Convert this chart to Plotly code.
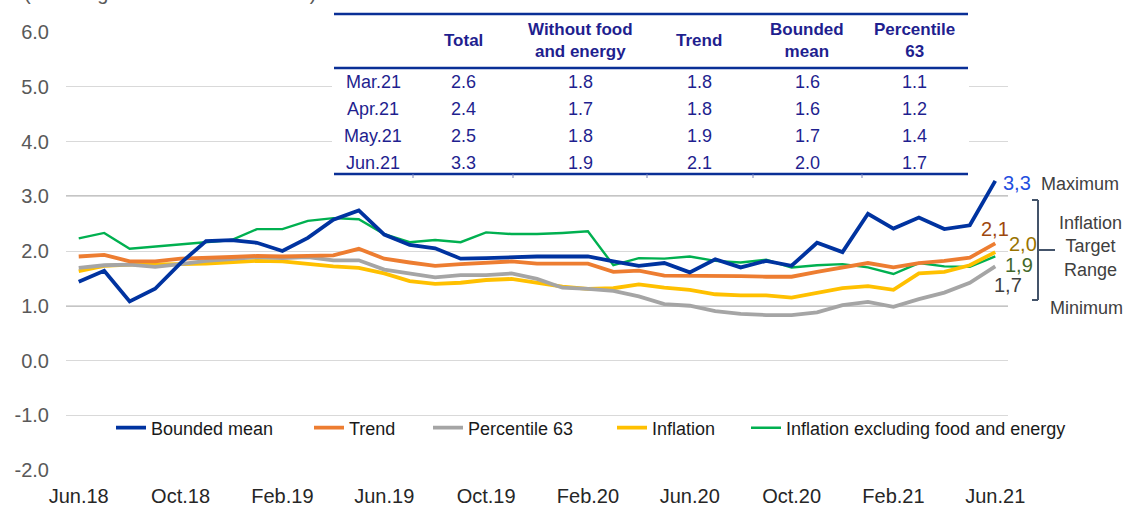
import plotly.graph_objects as go

# ---------------- data ----------------
months = ["Jun.18","Jul.18","Aug.18","Sep.18","Oct.18","Nov.18","Dec.18","Jan.19","Feb.19","Mar.19",
          "Apr.19","May.19","Jun.19","Jul.19","Aug.19","Sep.19","Oct.19","Nov.19","Dec.19","Jan.20",
          "Feb.20","Mar.20","Apr.20","May.20","Jun.20","Jul.20","Aug.20","Sep.20","Oct.20","Nov.20",
          "Dec.20","Jan.21","Feb.21","Mar.21","Apr.21","May.21","Jun.21"]
tick_labels = ["Jun.18","Oct.18","Feb.19","Jun.19","Oct.19","Feb.20","Jun.20","Oct.20","Feb.21","Jun.21"]

bounded_mean = [1.44,1.64,1.08,1.31,1.78,2.18,2.20,2.15,2.00,2.24,2.57,2.74,2.30,2.11,2.05,1.86,1.87,1.89,1.90,1.90,
                1.90,1.81,1.73,1.78,1.61,1.85,1.70,1.82,1.73,2.15,1.98,2.68,2.41,2.61,2.40,2.47,3.28]
trend = [1.90,1.93,1.81,1.81,1.86,1.87,1.89,1.91,1.90,1.91,1.92,2.04,1.86,1.79,1.73,1.76,1.78,1.81,1.77,1.77,
         1.77,1.62,1.64,1.55,1.55,1.55,1.54,1.53,1.53,1.62,1.70,1.78,1.70,1.78,1.82,1.88,2.14]
percentile63 = [1.69,1.74,1.75,1.71,1.76,1.82,1.85,1.89,1.87,1.89,1.83,1.83,1.66,1.59,1.52,1.56,1.56,1.59,1.49,1.33,
                1.31,1.27,1.17,1.03,1.00,0.90,0.85,0.83,0.83,0.88,1.01,1.07,0.98,1.12,1.24,1.42,1.72]
inflation = [1.63,1.73,1.75,1.75,1.76,1.77,1.79,1.82,1.81,1.76,1.72,1.69,1.59,1.45,1.40,1.42,1.47,1.49,1.42,1.35,
             1.31,1.32,1.39,1.33,1.29,1.21,1.19,1.19,1.15,1.23,1.32,1.36,1.29,1.59,1.62,1.74,1.98]
inflation_ex_fe = [2.23,2.33,2.04,2.08,2.13,2.16,2.20,2.40,2.40,2.55,2.60,2.58,2.31,2.16,2.20,2.16,2.34,2.31,2.31,2.33,
                   2.36,1.74,1.87,1.86,1.90,1.82,1.79,1.84,1.70,1.74,1.76,1.70,1.58,1.78,1.72,1.71,1.90]

series_names = ["Bounded mean", "Trend", "Percentile 63", "Inflation", "Inflation excluding food and energy"]
end_labels = ["3,3", "2,1", "1,7", "2,0", "1,9"]

table_header = ["", "Total", "Without food<br>and energy", "Trend", "Bounded<br>mean", "Percentile<br>63"]
table_rows = ["Mar.21", "Apr.21", "May.21", "Jun.21"]
table_total = ["2.6", "2.4", "2.5", "3.3"]
table_wo_fe = ["1.8", "1.7", "1.8", "1.9"]
table_trend = ["1.8", "1.8", "1.9", "2.1"]
table_bmean = ["1.6", "1.6", "1.7", "2.0"]
table_p63 = ["1.1", "1.2", "1.4", "1.7"]

# ---------------- layout geometry ----------------
W, H = 1125, 506
ML, MR, MT, MB = 66, 117, 32, 36
PW, PH = W - ML - MR, H - MT - MB
FONT = "Liberation Sans, Arial, sans-serif"

def px(x):
    return (x - ML) / PW

def py(y):
    return (H - MB - y) / PH

x_idx = list(range(len(months)))
colors = ["#0033A0", "#ED7D31", "#A5A5A5", "#FFC000", "#00B050"]
widths = [3.8, 3.8, 3.8, 3.8, 2.4]
legend_ids = ["legend", "legend2", "legend3", "legend4", "legend5"]
legend_px = [111, 309, 428, 612, 746]
data = [bounded_mean, trend, percentile63, inflation, inflation_ex_fe]

fig = go.Figure()
# draw in reverse so bounded mean is on top
for name, vals, c, w, lg in reversed(list(zip(series_names, data, colors, widths, legend_ids))):
    fig.add_trace(go.Scatter(x=x_idx, y=vals, mode="lines", name=name, legend=lg,
                             line=dict(color=c, width=w), hoverinfo="skip"))

shapes = []
# darker target lines at 1.0 and 3.0
for yv in (1.0, 3.0):
    shapes.append(dict(type="line", xref="paper", yref="y", x0=0, x1=1, y0=yv, y1=yv,
                       line=dict(color="#8C8C8C", width=1.6), layer="below"))

# table background + borders
TBL_L, TBL_R, TBL_T, TBL_HB, TBL_B = 334, 968, 14, 68, 174
shapes.append(dict(type="rect", xref="paper", yref="paper", x0=px(TBL_L - 2), x1=px(TBL_R + 1),
                   y0=py(TBL_B + 1), y1=py(TBL_T - 1), fillcolor="white", line=dict(width=0), layer="above"))
tblue = "#0A2F96"
for yy in (TBL_T, TBL_HB, TBL_B):
    shapes.append(dict(type="line", xref="paper", yref="paper", x0=px(TBL_L), x1=px(TBL_R),
                       y0=py(yy), y1=py(yy), line=dict(color=tblue, width=2.5), layer="above"))
for xx in (413, 513, 647, 753, 862):
    shapes.append(dict(type="line", xref="paper", yref="paper", x0=px(xx), x1=px(xx),
                       y0=py(TBL_B), y1=py(TBL_B + 4), line=dict(color="#7A84B8", width=1), layer="above"))

# bracket for target range
bc = "#44546A"
BX = 1038
shapes += [
    dict(type="line", xref="paper", yref="paper", x0=px(BX), x1=px(BX), y0=py(200), y1=py(300), line=dict(color=bc, width=2)),
    dict(type="line", xref="paper", yref="paper", x0=px(BX - 6), x1=px(BX), y0=py(200), y1=py(200), line=dict(color=bc, width=2)),
    dict(type="line", xref="paper", yref="paper", x0=px(BX - 6), x1=px(BX), y0=py(300), y1=py(300), line=dict(color=bc, width=2)),
    dict(type="line", xref="paper", yref="paper", x0=px(BX), x1=px(1055), y0=py(250), y1=py(250), line=dict(color=bc, width=2)),
]

annotations = []
tcol = "#1F1F8F"
col_x = [373, 463, 580, 699, 807, 914]
for cx, htxt in zip(col_x, table_header):
    if htxt:
        annotations.append(dict(text="<b>" + htxt + "</b>", xref="paper", yref="paper", x=px(cx), y=py(41),
                                xanchor="center", yanchor="middle", showarrow=False,
                                font=dict(family=FONT, size=17, color=tcol)))
row_y = [82, 109, 136, 163]
cols = [table_rows, table_total, table_wo_fe, table_trend, table_bmean, table_p63]
for cx, col in zip(col_x, cols):
    for ry, v in zip(row_y, col):
        annotations.append(dict(text=v, xref="paper", yref="paper", x=px(cx), y=py(ry),
                                xanchor="center", yanchor="middle", showarrow=False,
                                font=dict(family=FONT, size=18, color=tcol)))

# end value labels
end_pos = [(1017, 183, "#1F4FE0"), (995, 229, "#9E480E"), (1008, 285, "#404040"),
           (1023, 244, "#997300"), (1019, 265, "#43682B")]
for (ex, ey, ec), lab in zip(end_pos, end_labels):
    annotations.append(dict(text=lab, xref="paper", yref="paper", x=px(ex), y=py(ey),
                            xanchor="center", yanchor="middle", showarrow=False,
                            font=dict(family=FONT, size=20, color=ec)))

side = [("Maximum", 1080, 184), ("Inflation<br>Target<br>Range", 1090, 246), ("Minimum", 1086, 308)]
for txt, sx, sy in side:
    annotations.append(dict(text=txt, xref="paper", yref="paper", x=px(sx), y=py(sy),
                            xanchor="center", yanchor="middle", showarrow=False,
                            font=dict(family=FONT, size=18, color="#404040")))

# cut-off unit title at top
annotations.append(dict(text="(% change in the last 12 months)", xref="paper", yref="paper",
                        x=px(22), y=py(-7), xanchor="left", yanchor="middle", showarrow=False,
                        font=dict(family=FONT, size=20, color="#595959")))

legend_common = dict(orientation="h", yref="paper", y=py(428), xanchor="left", yanchor="middle",
                     bgcolor="rgba(0,0,0,0)", font=dict(family=FONT, size=18, color="#1A1A1A"))
legend_layout = {lg: dict(x=px(lx), **legend_common) for lg, lx in zip(legend_ids, legend_px)}

fig.update_layout(
    width=W, height=H,
    margin=dict(l=ML, r=MR, t=MT, b=MB, autoexpand=False),
    plot_bgcolor="white", paper_bgcolor="white",
    font=dict(family=FONT),
    shapes=shapes, annotations=annotations,
    showlegend=True,
    **legend_layout,
    xaxis=dict(range=[-0.5, 36.5], tickvals=[0, 4, 8, 12, 16, 20, 24, 28, 32, 36], ticktext=tick_labels,
               showgrid=False, zeroline=False, showline=False, ticks="", tickangle=0,
               tickfont=dict(family=FONT, size=20, color="#262626"), ticklabelstandoff=12),
    yaxis=dict(range=[-2, 6], tickvals=[-2, -1, 0, 1, 2, 3, 4, 5, 6],
               ticktext=["-2.0", "-1.0", "0.0", "1.0", "2.0", "3.0", "4.0", "5.0", "6.0"],
               showgrid=True, gridcolor="#D9D9D9", gridwidth=1.2, zeroline=False, showline=False,
               tickfont=dict(family=FONT, size=20, color="#595959"), ticklabelstandoff=16),
)

fig.write_html("out.html", config={"displayModeBar": False},
               post_script="document.body.style.margin='0';document.body.style.overflow='hidden';")
